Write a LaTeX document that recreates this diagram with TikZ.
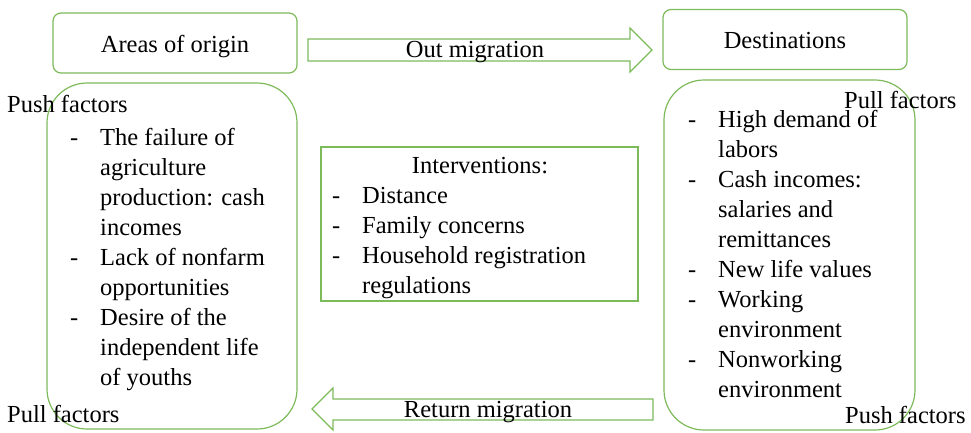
\documentclass[tikz,border=0pt]{standalone}
\usepackage{fontspec}
\setmainfont{Liberation Serif}
\usetikzlibrary{positioning,calc}
\definecolor{boxgreen}{HTML}{7DBA5A}
\newcommand{\lstitem}[1]{\makebox[30pt][l]{-}#1}
\newcommand{\lstcont}[1]{\hspace*{30pt}#1}
\tikzset{
  txt/.style={font={\fontsize{24.5}{30}\selectfont}},
  % boxes
  box/.style={txt,draw=boxgreen,line width=1.2pt,rounded corners=8pt,
              text height=18pt,text depth=0pt,minimum width=244pt,minimum height=60pt},
  bigbox/.style={draw=boxgreen,line width=1.2pt,rounded corners=40pt,inner sep=0pt},
  ivbox/.style={draw=boxgreen,line width=1.2pt,inner sep=0pt},
  % texts
  lst/.style={txt,align=left,anchor=north west,inner sep=0pt},
  lbl/.style={txt,anchor=base west,inner sep=0pt},
  blockarrow/.style={draw=boxgreen,line width=1.2pt,line join=miter},
}

\begin{document}
\begin{tikzpicture}[x=1pt,y=-1pt]
\useasboundingbox (0,0) rectangle (971,432);
  \node[box] (origin) at (175,43) {Areas of origin};
  \node[box] (dest) at (785,39.5) {Destinations};
  \node[bigbox,minimum width=250pt,minimum height=346pt] (pushbox) at (172,256) {};
  \node[bigbox,minimum width=251pt,minimum height=350pt] (pullbox) at (789.5,255) {};
  \node[ivbox,minimum width=317pt,minimum height=154pt] (interv) at (479.5,224) {};
  % lists
  \node[lst] (pushlist) at (70,124) {\strut\lstitem{The failure of}\\
    \lstcont{agriculture}\\ \lstcont{production: cash}\\ \lstcont{incomes}\\
    \lstitem{Lack of nonfarm}\\ \lstcont{opportunities}\\
    \lstitem{Desire of the}\\ \lstcont{independent life}\\ \lstcont{of youths}};
  \node[lst] (pulllist) at (688,106) {\strut\lstitem{High demand of}\\
    \lstcont{labors}\\ \lstitem{Cash incomes:}\\ \lstcont{salaries and}\\
    \lstcont{remittances}\\ \lstitem{New life values}\\ \lstitem{Working}\\
    \lstcont{environment}\\ \lstitem{Nonworking}\\ \lstcont{environment}};
  \node[lbl,anchor=base] (ivtitle) at (480,173) {Interventions:};
  \node[lst] (ivlist) at (332,182) {\strut\lstitem{Distance}\\
    \lstitem{Family concerns}\\ \lstitem{Household registration}\\
    \lstcont{regulations}};
  % factor labels
  \node[lbl] (pushl) at (7,112) {Push factors};
  \node[lbl] (pulll) at (7,422) {Pull factors};
  \node[lbl] (pullr) at (844,108) {Pull factors};
  \node[lbl] (pushr) at (845,423) {Push factors};
  % block arrows
  \draw[blockarrow] (308,39) -- (630,39) -- (630,28) -- (652,50) -- (630,72)
    -- (630,61) -- (308,61) -- cycle;
  \node[lbl,anchor=base] (outlbl) at (475,57) {Out migration};
  \draw[blockarrow] (653,399) -- (333,399) -- (333,388) -- (312,409) -- (333,430)
    -- (333,420) -- (653,420) -- cycle;
  \node[lbl,anchor=base] (retlbl) at (488,417) {Return migration};
\end{tikzpicture}
\end{document}
